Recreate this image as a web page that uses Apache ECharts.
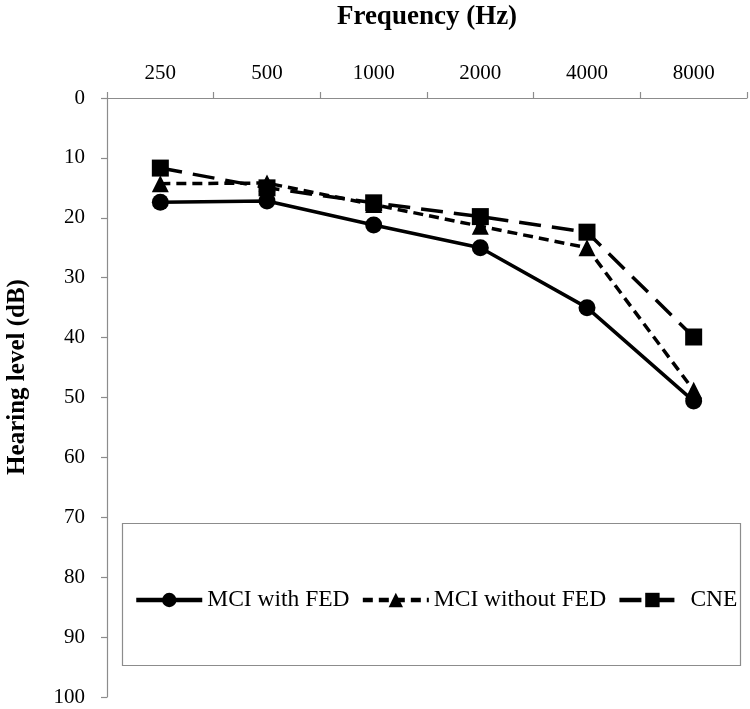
<!DOCTYPE html>
<html>
<head>
<meta charset="utf-8">
<script src="https://cdn.jsdelivr.net/npm/echarts@6/dist/echarts.min.js"></script>
<style>html,body{margin:0;padding:0;background:#fff;}#c{width:750px;height:709px;}</style>
</head>
<body>
<div id="c"></div>
<script>
var categories = ['250', '500', '1000', '2000', '4000', '8000'];
var mciWithFED = [17.4, 17.2, 21.2, 25.0, 35.0, 50.6];
var mciWithoutFED = [14.3, 14.2, 17.8, 21.4, 25.0, 48.8];
var cne = [11.7, 15.0, 17.5, 19.8, 22.4, 39.9];
var yTicks = {min: 0, max: 100, interval: 10};

var FONT = '"Liberation Serif", "Times New Roman", serif';
var chart = echarts.init(document.getElementById('c'));
var lineW = 3.5;
chart.setOption({
  animation: false,
  backgroundColor: '#fff',
  grid: {left: 107, right: 3, top: 98, bottom: 12, containLabel: false, outerBoundsMode: 'none'},
  xAxis: {
    type: 'category',
    data: categories,
    position: 'top',
    boundaryGap: true,
    name: 'Frequency (Hz)',
    nameLocation: 'middle',
    nameGap: 67,
    nameTextStyle: {fontFamily: FONT, fontSize: 27, fontWeight: 'bold', color: '#000'},
    axisLine: {show: true, lineStyle: {color: '#8c8c8c', width: 1.2}},
    axisTick: {show: true, inside: false, length: 6, lineStyle: {color: '#8c8c8c', width: 1.2}},
    axisLabel: {fontFamily: FONT, fontSize: 21, color: '#000', margin: 14},
    splitLine: {show: false}
  },
  yAxis: {
    type: 'value',
    inverse: true,
    min: yTicks.min, max: yTicks.max, interval: yTicks.interval,
    axisLine: {show: true, lineStyle: {color: '#8c8c8c', width: 1.2}},
    axisTick: {show: true, inside: false, length: 6, lineStyle: {color: '#8c8c8c', width: 1.2}},
    axisLabel: {fontFamily: FONT, fontSize: 21, color: '#000', margin: 22},
    splitLine: {show: false}
  },
  legend: {
    left: 134, top: 588,
    itemWidth: 66, itemHeight: 18, itemGap: 11,
    padding: 0,
    lineStyle: {width: 4.5},
    textStyle: {fontFamily: FONT, fontSize: 23.5, color: '#000'},
    data: ['MCI with FED', 'MCI without FED', 'CNE']
  },
  graphic: [
    {type: 'rect', shape: {x: 122.5, y: 523.5, width: 618, height: 142}, style: {fill: '#fff', stroke: '#8c8c8c', lineWidth: 1.2}, z: 0, zlevel: 0},
    {type: 'text', x: 18, y: 377, rotation: Math.PI / 2, style: {text: 'Hearing level (dB)', font: 'bold 25px ' + FONT, fill: '#000', textAlign: 'center', textVerticalAlign: 'middle'}}
  ],
  series: [
    {
      name: 'MCI with FED', type: 'line', data: mciWithFED,
      symbol: 'circle', symbolSize: 17,
      itemStyle: {color: '#000'},
      lineStyle: {color: '#000', width: lineW, type: 'solid'},
      z: 3
    },
    {
      name: 'MCI without FED', type: 'line', data: mciWithoutFED,
      symbol: 'triangle', symbolSize: 17,
      itemStyle: {color: '#000'},
      lineStyle: {color: '#000', width: lineW, type: [10, 6]},
      z: 4
    },
    {
      name: 'CNE', type: 'line', data: cne,
      symbol: 'rect', symbolSize: 17,
      itemStyle: {color: '#000'},
      lineStyle: {color: '#000', width: lineW, type: [22, 11]},
      z: 5
    }
  ]
});
</script>
</body>
</html>
